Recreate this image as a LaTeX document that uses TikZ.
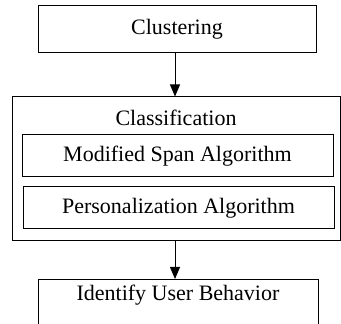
\documentclass[tikz,border=0pt]{standalone}
\usepackage{fontspec}
\setmainfont{Liberation Serif}
\usetikzlibrary{arrows.meta}

\tikzset{
  stagebox/.style={draw, line width=1pt, rectangle, inner sep=0pt,
    font=\fontsize{22}{26}\selectfont},
  flowarrow/.style={line width=1pt, -{Triangle[width=10pt,length=12pt]}}
}

\begin{document}
\begin{tikzpicture}[x=1pt,y=1pt]
          \clip (0,0) rectangle (341,324);

          \node[stagebox, minimum width=278pt, minimum height=47pt] (clust) at (177,294.5) {Clustering};

          \node[stagebox, minimum width=328pt, minimum height=144pt] (classif) at (176,155) {};
          \node[font=\fontsize{22}{26}\selectfont] (classlabel) at (176,206) {Classification};
          \node[stagebox, minimum width=311pt, minimum height=42pt] (span) at (177.5,168) {Modified Span Algorithm};
          \node[stagebox, minimum width=311pt, minimum height=42pt] (person) at (178.5,116) {Personalization Algorithm};

          \node[stagebox, anchor=north, minimum width=280pt, inner sep=3pt,
                text height=18pt, text depth=60pt] (behav) at (178,45) {Identify User Behavior};

          \draw[flowarrow] (clust.south -| 175,0) -- (classif.north -| 175,0);
          \draw[flowarrow] (classif.south -| 175,0) -- (behav.north -| 175,0);
        \end{tikzpicture}
\end{document}
